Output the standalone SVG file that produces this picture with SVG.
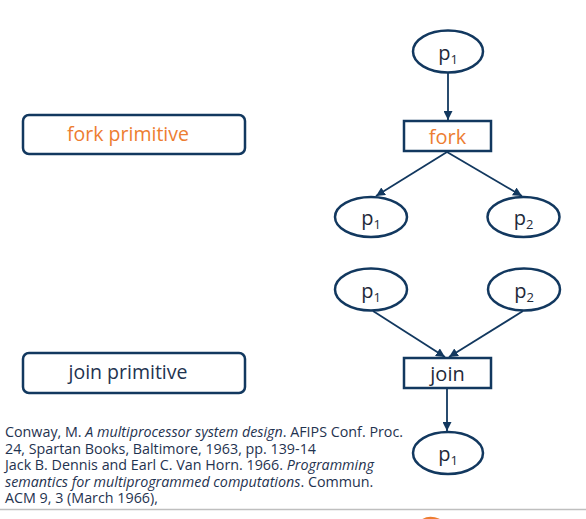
<svg xmlns="http://www.w3.org/2000/svg" width="586" height="519" viewBox="0 0 586 519">
<style>
.node{fill:#fff;stroke:#12385f;stroke-width:2.5}
.lbl{fill:#fff;stroke:#12385f;stroke-width:2.5}
.t{font-family:"Open Sans","Noto Sans","Liberation Sans",sans-serif;fill:#1e2a3a;font-size:20px;text-anchor:middle}
.sub{font-size:13px}
.edge{stroke:#12385f;stroke-width:1.8;fill:none;marker-end:url(#ah)}
.cite{font-family:"Open Sans","Noto Sans","Liberation Sans",sans-serif;font-size:14.3px;fill:#1f3350}
</style>
<defs>
<marker id="ah" viewBox="0 0 10 10" refX="10" refY="5" markerWidth="5" markerHeight="5" orient="auto" markerUnits="strokeWidth">
<path d="M0,0 L10,5 L0,10 z" fill="#12385f"/>
</marker>
</defs>
<rect width="586" height="519" fill="#fff"/>

<g id="fork-primitive">
<rect x="23" y="115" width="222" height="39" rx="6" class="lbl"/>
<text x="128" y="140.5" class="t" style="font-size:19.5px;fill:#ed7d31">fork primitive</text>
</g>
<g id="join-primitive">
<rect x="23" y="353" width="222" height="40" rx="6" class="lbl"/>
<text x="128" y="378.5" class="t" style="font-size:19.5px;fill:#1f3350">join primitive</text>
</g>

<g id="connectors">
<line x1="448" y1="73" x2="448" y2="120" class="edge"/>
<line x1="447" y1="152" x2="376" y2="196" class="edge"/>
<line x1="447" y1="152" x2="522" y2="196" class="edge"/>
<line x1="373" y1="311" x2="445" y2="357" class="edge"/>
<line x1="523" y1="311" x2="449" y2="357" class="edge"/>
<line x1="447" y1="389" x2="447" y2="431" class="edge"/>
</g>

<g id="p1-top">
<ellipse cx="448" cy="51.5" rx="35" ry="21" class="node"/>
<text x="448" y="60" class="t">p<tspan class="sub" dy="4">1</tspan></text>
</g>
<g id="fork">
<rect x="404" y="121" width="87" height="30" class="node"/>
<text x="447.5" y="144" class="t" style="fill:#ed7d31">fork</text>
</g>
<g id="fork-p1">
<ellipse cx="371" cy="217" rx="36" ry="20" class="node"/>
<text x="371" y="225" class="t">p<tspan class="sub" dy="4">1</tspan></text>
</g>
<g id="fork-p2">
<ellipse cx="523.5" cy="217" rx="36" ry="20" class="node"/>
<text x="523.5" y="225" class="t">p<tspan class="sub" dy="4">2</tspan></text>
</g>

<g id="join-p1">
<ellipse cx="371" cy="289.5" rx="36" ry="21" class="node"/>
<text x="371" y="298" class="t">p<tspan class="sub" dy="4">1</tspan></text>
</g>
<g id="join-p2">
<ellipse cx="524" cy="289.5" rx="36" ry="21" class="node"/>
<text x="524" y="298" class="t">p<tspan class="sub" dy="4">2</tspan></text>
</g>
<g id="join">
<rect x="404" y="358" width="87" height="30" class="node"/>
<text x="447.5" y="381" class="t">join</text>
</g>
<g id="p1-bottom">
<ellipse cx="448" cy="453" rx="35" ry="21" class="node"/>
<text x="448" y="461" class="t">p<tspan class="sub" dy="4">1</tspan></text>
</g>

<g id="citation">
<text class="cite" x="5" y="437">Conway, M. <tspan font-style="italic">A multiprocessor system design</tspan>. AFIPS Conf. Proc.</text>
<text class="cite" x="5" y="453.5">24, Spartan Books, Baltimore, 1963, pp. 139-14</text>
<text class="cite" x="5" y="470">Jack B. Dennis and Earl C. Van Horn. 1966. <tspan font-style="italic">Programming</tspan></text>
<text class="cite" x="5" y="486.5"><tspan font-style="italic">semantics for multiprogrammed computations</tspan>. Commun.</text>
<text class="cite" x="5" y="503">ACM 9, 3 (March 1966),</text>
</g>

<line x1="0" y1="509.5" x2="586" y2="509.5" stroke="#bfbfbf" stroke-width="1.5"/>
<path d="M423,520 Q430,516 439,520" fill="none" stroke="#ed7d31" stroke-width="2.5"/>
</svg>
